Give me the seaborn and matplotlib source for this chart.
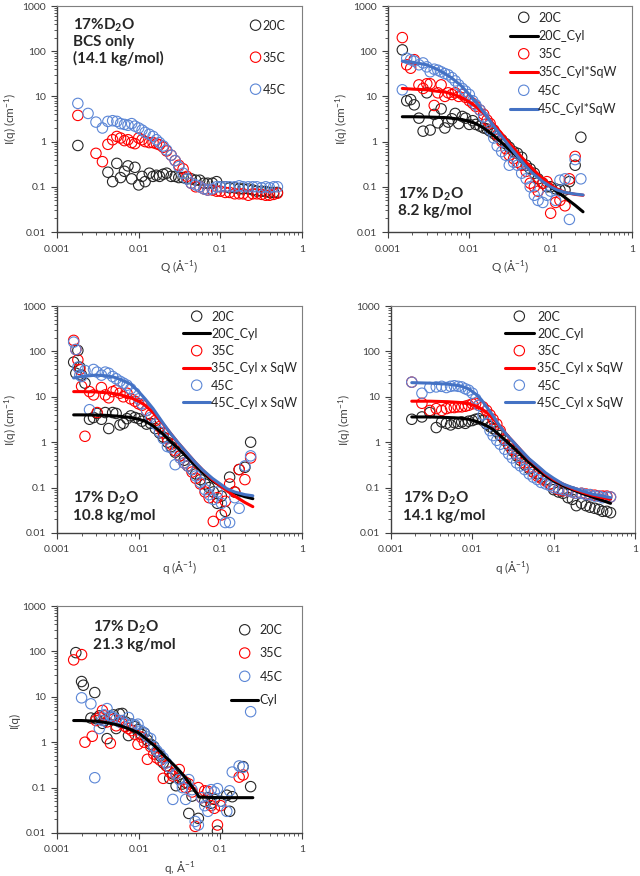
import numpy as np
import matplotlib
matplotlib.use("Agg")
import matplotlib.pyplot as plt
from matplotlib.ticker import FuncFormatter, NullFormatter, LogLocator
import seaborn as sns

sns.set_style("ticks")
plt.rcParams["font.family"] = ["Lato", "DejaVu Sans"]
plt.rcParams["mathtext.fontset"] = "custom"
plt.rcParams["mathtext.rm"] = "Lato"
plt.rcParams["mathtext.it"] = "Lato:italic"
plt.rcParams["mathtext.bf"] = "Lato:bold"

nan = np.nan

# %% DATA - panel A: 17% D2O, BCS only (14.1 kg/mol)
q_a = [0.0018, 0.0024, 0.0030, 0.0036, 0.0042, 0.0048, 0.0054, 0.0060, 0.0067, 0.0074,
       0.0082, 0.0090, 0.0100, 0.0110, 0.0120, 0.0135, 0.0150, 0.0165, 0.0180, 0.0200,
       0.0220, 0.0250, 0.0280, 0.0310, 0.0350, 0.0390, 0.0440, 0.0500, 0.0560, 0.0630,
       0.0700, 0.0800, 0.0900, 0.1000, 0.1150, 0.1300, 0.1500, 0.1700, 0.1900, 0.2200,
       0.2500, 0.2800, 0.3200, 0.3600, 0.4000, 0.4500, 0.5000]
a_20C = [0.82, nan, nan, nan, 0.21, 0.13, 0.33, 0.16, 0.22, 0.29,
         0.15, 0.27, 0.11, 0.17, 0.13, 0.20, 0.17, 0.18, 0.17, 0.19,
         0.20, 0.17, 0.17, 0.16, 0.16, 0.15, 0.15, 0.14, 0.14, 0.12,
         0.12, 0.12, 0.13, 0.10, 0.10, 0.095, 0.095, 0.09, 0.09, 0.09,
         0.085, 0.08, 0.08, 0.078, 0.075, 0.075, 0.075]
a_35C = [3.8, nan, 0.55, 0.36, 0.87, 1.1, 1.3, 1.2, 1.05, 1.1,
         0.95, 0.9, 1.2, 1.1, 1.0, 0.95, 0.95, 0.9, 0.85, 0.75,
         0.62, 0.5, 0.38, 0.3, 0.25, 0.17, 0.12, 0.1, 0.1, 0.09,
         0.085, 0.085, 0.08, 0.08, 0.075, 0.075, 0.07, 0.07, 0.07, 0.065,
         0.07, 0.07, 0.068, 0.065, 0.065, 0.068, 0.072]
a_45C = [7.0, 4.2, 2.7, 2.0, 2.8, 2.9, 2.8, 2.5, 2.4, 2.3,
         2.5, 2.2, 2.0, 1.8, 1.6, 1.45, 1.3, 1.1, 0.95, 0.8,
         0.65, 0.5, 0.38, 0.28, 0.2, 0.15, 0.12, 0.11, 0.1, 0.09,
         0.085, 0.09, 0.1, 0.1, 0.1, 0.1, 0.1, 0.105, 0.1, 0.1,
         0.1, 0.1, 0.095, 0.1, 0.095, 0.1, 0.1]

# %% DATA - panel B: 8.2 kg/mol
q_b = [0.0015, 0.0017, 0.0019, 0.0021, 0.0024, 0.0027, 0.0030, 0.0033, 0.0037, 0.0041,
       0.0045, 0.0050, 0.0055, 0.0061, 0.0067, 0.0074, 0.0082, 0.0090, 0.0100, 0.0110,
       0.0120, 0.0135, 0.0150, 0.0165, 0.0180, 0.0200, 0.0220, 0.0250, 0.0280, 0.0310,
       0.0350, 0.0390, 0.0440, 0.0500, 0.0560, 0.0630, 0.0700, 0.0800, 0.0900, 0.1000,
       0.1150, 0.1300, 0.1500, 0.1700, 0.2000, 0.2350]
b_20C = [107, 8.0, 8.5, 6.5, 3.3, 1.7, 12, 1.8, 4.0, 2.6,
         5.3, 2.0, 2.7, 3.2, 4.2, 2.5, 3.6, 3.3, 2.4, 2.9,
         2.4, 2.2, 2.0, 1.9, 1.7, 1.5, 1.3, 1.1, 0.9, 0.75,
         0.6, 0.55, 0.45, 0.3, 0.25, 0.2, 0.15, 0.12, 0.1, 0.1,
         0.09, 0.085, 0.085, 0.13, 0.3, 1.25]
b_35C = [200, 50, 42, 65, 18, 15, 19, 19, 6.3, 12,
         18, 10, 12, 11, 12, 10, 11, 9.5, 8, 7,
         6, 5, 4, 3, 2.5, 1.8, 1.4, 1.0, 0.7, 0.5,
         0.42, 0.35, 0.3, 0.22, 0.12, 0.1, 0.08, 0.12, 0.13, 0.026,
         0.045, 0.05, 0.038, 0.15, 0.47, nan]
b_45C = [14, 70, 65, 60, 50, 55, 45, 35, 40, 38,
         35, 32, 30, 26, 22, 18, 15, 13, 11, 8,
         6.5, 5, 3.5, 2.5, 1.8, 1.2, 0.8, 0.6, 0.5, 0.3,
         0.35, 0.3, 0.2, 0.15, 0.1, 0.065, 0.05, 0.045, 0.065, 0.08,
         0.05, 0.14, 0.15, 0.019, 0.4, 0.15]
qfit_b = [0.0015, 0.002, 0.003, 0.004, 0.005, 0.006, 0.008, 0.010, 0.012, 0.015, 0.02,
          0.025, 0.03, 0.04, 0.05, 0.06, 0.08, 0.1, 0.12, 0.15, 0.2, 0.25]
fit_b_20C = [3.55, 3.55, 3.5, 3.45, 3.4, 3.3, 3.1, 2.8, 2.5, 2.0, 1.35,
             0.95, 0.7, 0.45, 0.3, 0.22, 0.14, 0.1, 0.078, 0.058, 0.039, 0.028]
fit_b_35C = [15, 14.5, 14, 13, 12.5, 11.5, 9.5, 7.5, 6, 4.2, 2.4,
             1.5, 1.0, 0.55, 0.35, 0.25, 0.15, 0.11, 0.09, 0.075, 0.068, 0.065]
fit_b_45C = [60, 57, 50, 40, 32, 26, 17, 11, 7.5, 4.5, 2.2,
             1.3, 0.85, 0.45, 0.28, 0.2, 0.13, 0.1, 0.085, 0.075, 0.069, 0.066]

# %% DATA - panel C: 10.8 kg/mol
q_c = [0.0016, 0.0017, 0.0018, 0.0019, 0.0020, 0.0022, 0.0025, 0.0028, 0.0031, 0.0035,
       0.0039, 0.0043, 0.0048, 0.0053, 0.0059, 0.0065, 0.0072, 0.0080, 0.0090, 0.0100,
       0.0110, 0.0125, 0.0140, 0.0160, 0.0180, 0.0200, 0.0225, 0.0250, 0.0280, 0.0320,
       0.0360, 0.0400, 0.0450, 0.0500, 0.0570, 0.0650, 0.0730, 0.0820, 0.0920, 0.1030,
       0.1150, 0.1300, 0.1500, 0.1700, 0.2000, 0.2350]
c_20C = [58, 33, 105, 45, 30, 20, 3.2, 3.5, 4.3, 3.2,
         4.5, 2.0, 4.5, 4.3, 2.4, 2.6, 3.3, 3.8, 3.5, 3.3,
         2.9, 2.5, 2.6, 2.0, 1.6, 1.3, 1.0, 0.8, 0.6, 0.5,
         0.4, 0.3, 0.25, 0.2, 0.15, 0.12, 0.1, 0.08, 0.045, 0.065,
         0.03, 0.17, 0.08, 0.25, 0.28, 1.0]
c_35C = [175, 110, 65, 40, 17, 1.35, 13, 11, 4.5, 16,
         11, 9.5, 13, 14, 12, 10, 12, 9, 8, 7,
         6.5, 5, 4, 3, 2.2, 1.6, 1.2, 0.9, 0.65, 0.5,
         0.35, 0.3, 0.22, 0.16, 0.12, 0.08, 0.06, 0.018, 0.06, 0.025,
         0.05, 0.12, 0.08, 0.25, 0.15, 0.45]
c_45C = [160, 110, 45, 30, 28, 38, 5.2, 40, 35, 30,
         35, 33, 28, 25, 22, 20, 18, 15, 12, 9,
         7, 5, 3.5, 2.5, 1.7, 1.2, 0.8, 0.75, 0.32, 0.45,
         0.35, 0.3, 0.25, 0.18, 0.13, 0.09, 0.07, 0.055, 0.08, 0.045,
         0.017, 0.017, 0.06, 0.035, 0.3, 0.5]
qfit_c = [0.0016, 0.002, 0.003, 0.004, 0.005, 0.006, 0.008, 0.010, 0.012, 0.015, 0.02,
          0.025, 0.03, 0.04, 0.05, 0.06, 0.08, 0.1, 0.12, 0.15, 0.2, 0.25]
fit_c_20C = [4.0, 4.0, 3.95, 3.9, 3.8, 3.7, 3.5, 3.2, 2.9, 2.3, 1.5,
             1.0, 0.75, 0.45, 0.3, 0.22, 0.14, 0.11, 0.09, 0.075, 0.063, 0.057]
fit_c_35C = [13, 13, 12.8, 12.3, 11.8, 11, 9.5, 8, 6.5, 4.5, 2.5,
             1.5, 1.0, 0.55, 0.35, 0.25, 0.15, 0.11, 0.085, 0.065, 0.047, 0.038]
fit_c_45C = [26, 28, 30, 29, 27, 24, 19, 13, 9, 5.5, 2.6,
             1.5, 1.0, 0.55, 0.35, 0.25, 0.16, 0.12, 0.095, 0.08, 0.07, 0.066]

# %% DATA - panel D: 14.1 kg/mol
q_d = [0.0018, 0.0024, 0.0030, 0.0036, 0.0042, 0.0048, 0.0054, 0.0060, 0.0067, 0.0074,
       0.0082, 0.0090, 0.0100, 0.0110, 0.0120, 0.0135, 0.0150, 0.0165, 0.0180, 0.0200,
       0.0220, 0.0250, 0.0280, 0.0310, 0.0350, 0.0390, 0.0440, 0.0500, 0.0560, 0.0630,
       0.0700, 0.0800, 0.0900, 0.1000, 0.1150, 0.1300, 0.1500, 0.1700, 0.1900, 0.2200,
       0.2500, 0.2800, 0.3200, 0.3600, 0.4000, 0.4500, 0.5000]
d_20C = [3.2, 3.6, 4.5, 2.1, 2.8, 2.6, 2.4, 2.7, 2.6, 2.8,
         2.6, 2.9, 3.0, 3.2, 3.3, 3.0, 2.5, 2.2, 2.0, 1.7,
         1.4, 1.1, 0.85, 0.65, 0.5, 0.4, 0.32, 0.26, 0.22, 0.2,
         0.17, 0.15, 0.12, 0.09, 0.08, 0.075, 0.06, 0.055, 0.04, 0.045,
         0.04, 0.037, 0.035, 0.033, 0.03, 0.03, 0.028]
d_35C = [21, 7.2, 5.0, 5.5, 5.0, 5.5, 5.8, 5.8, 6.0, 6.0,
         6.2, 6.5, 7.0, 7.2, 6.5, 6.0, 5.0, 4.0, 3.2, 2.5,
         1.8, 1.2, 0.9, 0.7, 0.55, 0.45, 0.35, 0.28, 0.22, 0.18,
         0.16, 0.14, 0.12, 0.1, 0.09, 0.085, 0.085, 0.08, 0.075, 0.075,
         0.072, 0.07, 0.068, 0.065, 0.065, 0.065, 0.062]
d_45C = [21, 12, 16, 16.5, 17, 16, 17, 17.5, 17, 16.5,
         15, 14, 12, 9, 6.5, 4, 2.6, 1.8, 1.4, 1.1,
         0.9, 0.7, 0.55, 0.45, 0.35, 0.3, 0.25, 0.2, 0.17, 0.15,
         0.13, 0.12, 0.11, 0.1, 0.095, 0.09, 0.085, 0.08, 0.075, 0.075,
         0.07, 0.07, 0.065, 0.065, 0.06, 0.062, 0.062]
qfit_d = [0.0018, 0.003, 0.005, 0.007, 0.009, 0.011, 0.013, 0.015, 0.018, 0.022, 0.027,
          0.033, 0.04, 0.05, 0.065, 0.08, 0.1, 0.13, 0.17, 0.22, 0.3, 0.4, 0.5]
fit_d_20C = [3.6, 3.6, 3.5, 3.4, 3.2, 2.9, 2.6, 2.3, 1.9, 1.4, 1.0,
             0.72, 0.52, 0.36, 0.24, 0.18, 0.14, 0.11, 0.09, 0.075, 0.062, 0.052, 0.045]
fit_d_35C = [8.0, 8.0, 7.8, 7.5, 7.0, 6.3, 5.4, 4.5, 3.3, 2.2, 1.4,
             0.95, 0.65, 0.42, 0.28, 0.2, 0.15, 0.12, 0.095, 0.08, 0.068, 0.06, 0.056]
fit_d_45C = [20.5, 20, 19, 17.5, 15, 11.5, 8.5, 6, 3.8, 2.2, 1.4,
             0.95, 0.65, 0.43, 0.29, 0.21, 0.16, 0.12, 0.1, 0.085, 0.072, 0.065, 0.06]

# %% DATA - panel E: 21.3 kg/mol
q_e = [0.0016, 0.0017, 0.0020, 0.0021, 0.0022, 0.0026, 0.0027, 0.0029, 0.0030, 0.0033,
       0.0036, 0.0038, 0.0041, 0.0045, 0.0049, 0.0053, 0.0058, 0.0063, 0.0069, 0.0075,
       0.0082, 0.0090, 0.0098, 0.0107, 0.0117, 0.0128, 0.0140, 0.0153, 0.0167, 0.0183,
       0.0200, 0.0219, 0.0240, 0.0262, 0.0287, 0.0314, 0.0343, 0.0376, 0.0411, 0.0450,
       0.0492, 0.0538, 0.0589, 0.0644, 0.0705, 0.0771, 0.0843, 0.0922, 0.1009, 0.1200,
       0.1300, 0.1400, 0.1700, 0.1900, 0.2350]
e_20C = [nan, 94, 21.7, 18, nan, 3.4, nan, 12.4, 3.3, 3.8,
         2.6, 3.0, 1.2, 3.5, 4.0, 2.0, 4.2, 4.3, 2.8, 1.4,
         2.5, 2.2, 1.9, 1.5, 1.6, 1.1, 0.9, 0.8, 0.6, 0.5,
         0.35, 0.3, 0.16, 0.2, 0.11, 0.16, 0.12, 0.13, 0.027, 0.065,
         nan, 0.021, nan, 0.05, 0.06, 0.045, 0.055, 0.011, 0.05, 0.068,
         0.03, 0.063, nan, 0.29, 0.105]
e_35C = [65, nan, 85, nan, 1.0, nan, 1.35, nan, 3.0, 3.5,
         5.0, 3.8, 2.8, 0.95, 3.2, 2.3, 3.0, 2.6, 2.2, 2.0,
         1.8, 1.5, 0.9, 1.3, 1.0, 0.42, 0.8, 0.55, 0.45, 0.4,
         0.16, 0.3, 0.22, 0.18, 0.2, 0.25, 0.15, 0.1, 0.12, 0.08,
         0.014, 0.1, 0.06, 0.085, 0.083, 0.04, 0.035, 0.015, 0.04, nan,
         nan, nan, 0.17, 0.19, nan]
e_45C = [nan, nan, 9.5, nan, nan, 7.0, nan, 0.165, nan, 2.0,
         3.0, 4.0, 5.5, 3.8, 3.5, 3.2, 2.8, 3.0, 2.6, 3.5,
         2.5, 2.4, 2.5, 1.8, 1.6, 1.3, 1.2, 0.8, 0.65, 0.55,
         0.45, 0.35, 0.28, 0.055, 0.2, 0.15, 0.1, 0.055, 0.15, 0.09,
         0.018, 0.015, 0.06, 0.04, 0.03, 0.09, 0.08, 0.095, 0.05, 0.03,
         0.085, 0.22, 0.3, 0.28, 4.7]
qfit_e = [0.0016, 0.002, 0.003, 0.004, 0.005, 0.006, 0.008, 0.01, 0.013, 0.016, 0.02,
          0.025, 0.03, 0.035, 0.04, 0.045, 0.05, 0.055, 0.07, 0.1, 0.15, 0.2, 0.25]
fit_e_cyl = [3.0, 3.0, 2.9, 2.7, 2.5, 2.3, 1.9, 1.6, 1.1, 0.8, 0.53,
             0.36, 0.26, 0.19, 0.14, 0.105, 0.08, 0.062, 0.061, 0.06, 0.06, 0.06, 0.06]

# colours (Excel-like)
C_BLACK = "#000000"
C_RED = "#FF0000"
C_BLUE = "#4472C4"
M_BLACK = "#262626"
M_BLUE = "#5B86D6"
AX_COL = "#404040"


# ---------- helpers ----------
def circles(ax, q, y, color, label):
    sns.scatterplot(x=q, y=y, ax=ax, marker="o", s=56, color=color, facecolor="none",
                    edgecolor=color, linewidth=0.8, label=label, legend=False)


def fitline(ax, q, y, color, label):
    sns.lineplot(x=q, y=y, ax=ax, color=color, linewidth=2.2, label=label,
                 legend=False, estimator=None, errorbar=None)


def style_axes(ax, xlabel, ylabel):
    ax.set_xscale("log")
    ax.set_yscale("log")
    ax.set_xlim(0.001, 1)
    ax.set_ylim(0.01, 1000)
    ax.xaxis.set_major_locator(LogLocator(base=10, numticks=10))
    ax.yaxis.set_major_locator(LogLocator(base=10, numticks=10))
    ax.xaxis.set_minor_locator(LogLocator(base=10, subs=np.arange(2, 10), numticks=20))
    ax.yaxis.set_minor_locator(LogLocator(base=10, subs=np.arange(2, 10), numticks=20))
    fmt = FuncFormatter(lambda v, p: f"{v:g}")
    ax.xaxis.set_major_formatter(fmt)
    ax.yaxis.set_major_formatter(fmt)
    ax.xaxis.set_minor_formatter(NullFormatter())
    ax.yaxis.set_minor_formatter(NullFormatter())
    ax.tick_params(which="major", direction="out", length=4, width=0.8, color=AX_COL,
                   labelsize=7.5, labelcolor=AX_COL)
    ax.tick_params(which="minor", direction="out", length=2.5, width=0.6, color=AX_COL)
    ax.tick_params(axis="x", which="major", pad=5)
    ax.tick_params(axis="y", which="major", pad=4)
    for side in ["left", "bottom"]:
        ax.spines[side].set_color(AX_COL)
        ax.spines[side].set_linewidth(1.0)
    for side in ["top", "right"]:
        ax.spines[side].set_color("#7f7f7f")
        ax.spines[side].set_linewidth(0.8)
    ax.set_xlabel(xlabel, fontsize=8.5, color=AX_COL, labelpad=3)
    ax.set_ylabel(ylabel, fontsize=8.5, color=AX_COL, labelpad=2)


def add_legend(ax, x, y, spacing, hlen, pad):
    handles, labels = ax.get_legend_handles_labels()
    ax.legend(handles, labels, loc="upper left", bbox_to_anchor=(x, y), frameon=False,
              fontsize=9, labelspacing=spacing, handlelength=hlen, handletextpad=pad,
              borderpad=0, borderaxespad=0, scatteryoffsets=[0.5], labelcolor="#262626")


def note(ax, x, y, text, va):
    ax.text(x, y, text, transform=ax.transAxes, ha="left", va=va, fontsize=11,
            fontweight="bold", color="#262626", linespacing=1.15)


# ---------- figure ----------
W, H = 640, 876
fig = plt.figure(figsize=(W / 100, H / 100), dpi=100)


def rect(l, t, r, b):
    return [l / W, 1 - b / H, (r - l) / W, (b - t) / H]


ax_a = fig.add_axes(rect(57, 6, 302, 232))
ax_b = fig.add_axes(rect(388, 6, 632, 232))
ax_c = fig.add_axes(rect(57, 306, 302, 533))
ax_d = fig.add_axes(rect(391, 306, 635, 533))
ax_e = fig.add_axes(rect(57, 606, 302, 833))

ylab = "I(q) (cm$^{-1}$)"

# A
circles(ax_a, q_a, a_20C, M_BLACK, "20C")
circles(ax_a, q_a, a_35C, C_RED, "35C")
circles(ax_a, q_a, a_45C, M_BLUE, "45C")
style_axes(ax_a, "Q (Å$^{-1}$)", ylab)
add_legend(ax_a, 0.79, 0.94, 1.6, 0.8, 0.15)
note(ax_a, 0.065, 0.955, "17%D$_\\mathbf{2}$O\nBCS only\n(14.1 kg/mol)", "top")

# B
circles(ax_b, q_b, b_20C, M_BLACK, "20C")
fitline(ax_b, qfit_b, fit_b_20C, C_BLACK, "20C_Cyl")
circles(ax_b, q_b, b_35C, C_RED, "35C")
fitline(ax_b, qfit_b, fit_b_35C, C_RED, "35C_Cyl*SqW")
circles(ax_b, q_b, b_45C, M_BLUE, "45C")
fitline(ax_b, qfit_b, fit_b_45C, C_BLUE, "45C_Cyl*SqW")
style_axes(ax_b, "Q (Å$^{-1}$)", ylab)
add_legend(ax_b, 0.5, 0.975, 0.5, 2.2, 0.05)
note(ax_b, 0.04, 0.06, "17% D$_\\mathbf{2}$O\n8.2 kg/mol", "bottom")

# C
circles(ax_c, q_c, c_20C, M_BLACK, "20C")
fitline(ax_c, qfit_c, fit_c_20C, C_BLACK, "20C_Cyl")
circles(ax_c, q_c, c_35C, C_RED, "35C")
fitline(ax_c, qfit_c, fit_c_35C, C_RED, "35C_Cyl x SqW")
circles(ax_c, q_c, c_45C, M_BLUE, "45C")
fitline(ax_c, qfit_c, fit_c_45C, C_BLUE, "45C_Cyl x SqW")
style_axes(ax_c, "q (Å$^{-1}$)", ylab)
add_legend(ax_c, 0.514, 0.98, 0.42, 2.2, 0.05)
note(ax_c, 0.065, 0.045, "17% D$_\\mathbf{2}$O\n10.8 kg/mol", "bottom")

# D
circles(ax_d, q_d, d_20C, M_BLACK, "20C")
fitline(ax_d, qfit_d, fit_d_20C, C_BLACK, "20C_Cyl")
circles(ax_d, q_d, d_35C, C_RED, "35C")
fitline(ax_d, qfit_d, fit_d_35C, C_RED, "35C_Cyl x SqW")
circles(ax_d, q_d, d_45C, M_BLUE, "45C")
fitline(ax_d, qfit_d, fit_d_45C, C_BLUE, "45C_Cyl x SqW")
style_axes(ax_d, "q (Å$^{-1}$)", ylab)
add_legend(ax_d, 0.467, 0.98, 0.42, 2.3, 0.3)
note(ax_d, 0.05, 0.045, "17% D$_\\mathbf{2}$O\n14.1 kg/mol", "bottom")

# E
circles(ax_e, q_e, e_20C, M_BLACK, "20C")
circles(ax_e, q_e, e_35C, C_RED, "35C")
circles(ax_e, q_e, e_45C, M_BLUE, "45C")
fitline(ax_e, qfit_e, fit_e_cyl, C_BLACK, "Cyl")
style_axes(ax_e, "q, Å$^{-1}$", "I(q)")
add_legend(ax_e, 0.71, 0.92, 0.9, 2.2, 0.1)
note(ax_e, 0.147, 0.945, "17% D$_\\mathbf{2}$O\n21.3 kg/mol", "top")

fig.savefig("out.png", dpi=100)
